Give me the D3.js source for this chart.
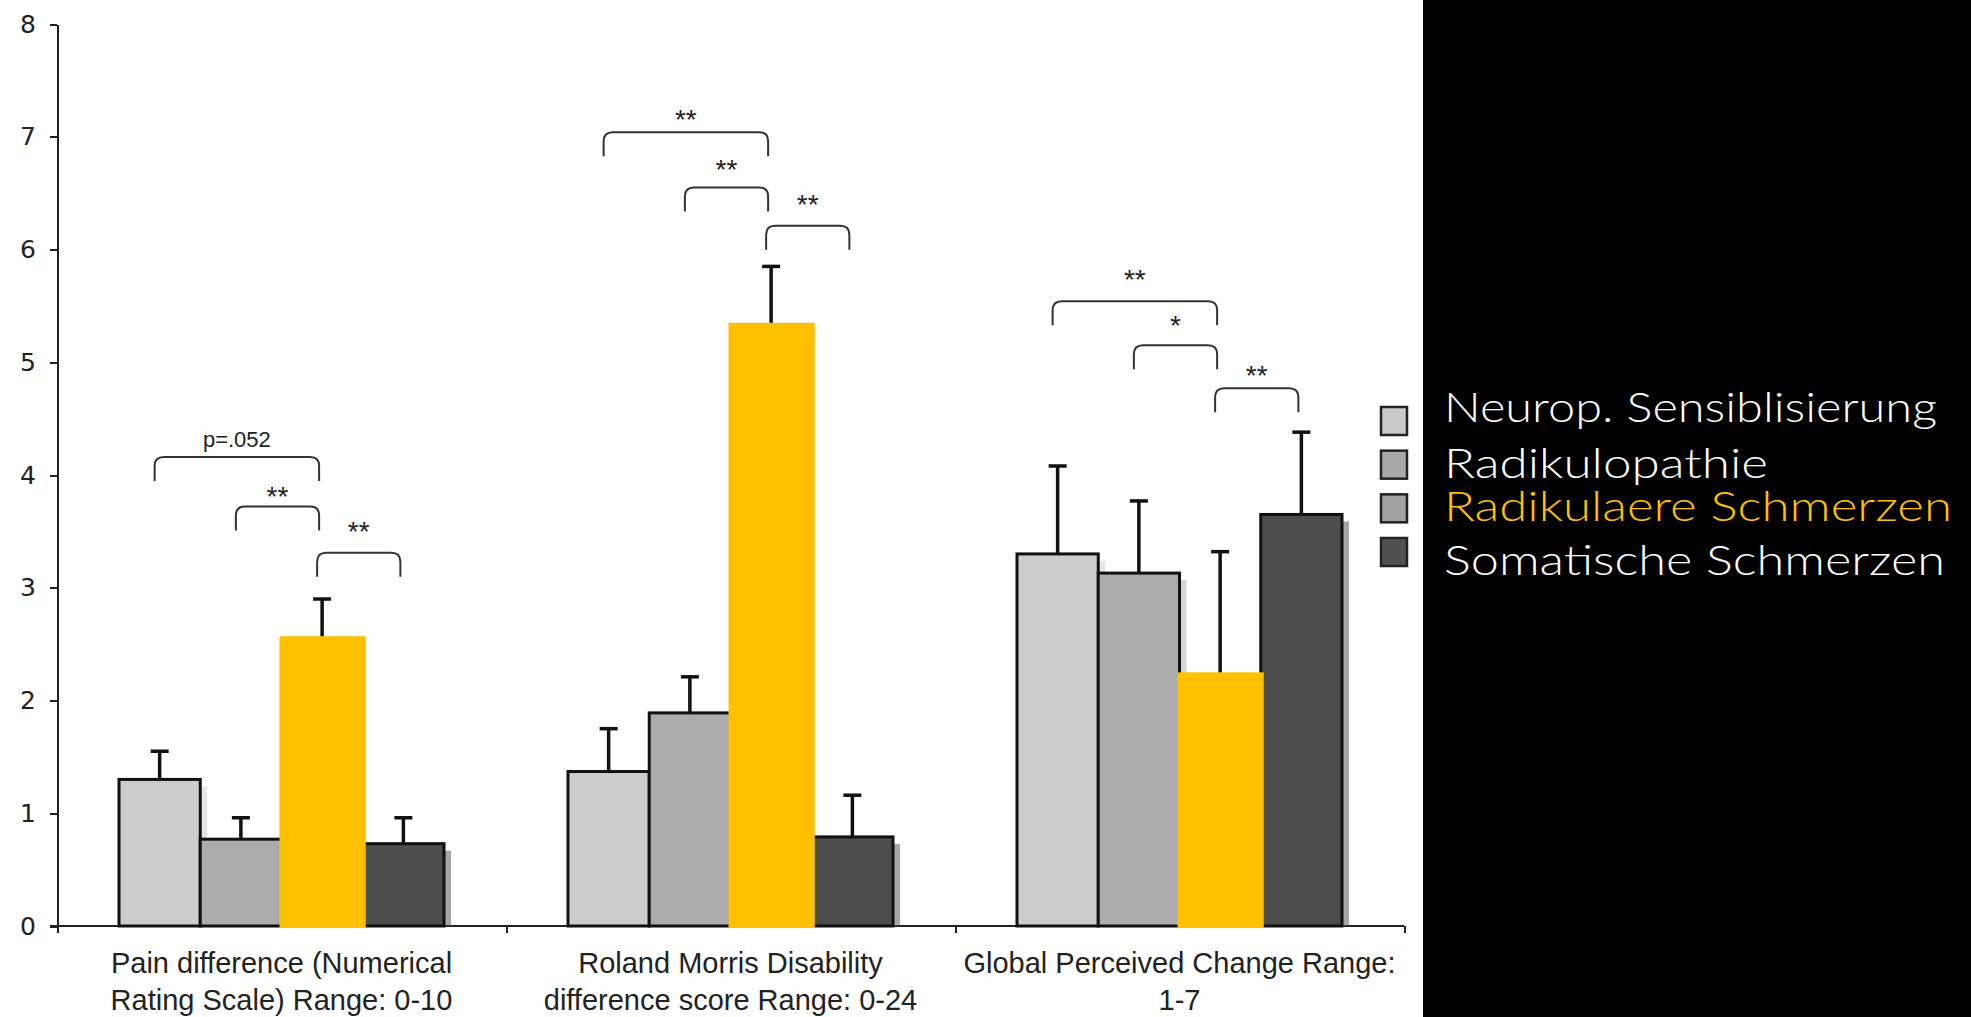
<!DOCTYPE html>
<meta charset="utf-8">
<style>
body{
    margin:0;
    background:#fff;
}
svg{
    display:block;
}
.axis path, .axis line{
    stroke:#222;
    stroke-width:2px;
    shape-rendering:crispEdges;
}
.yaxis text{
    font-family:"DejaVu Sans", sans-serif;
    font-size:25px;
    fill:#222;
}
.catlabel{
    font-family:"Liberation Sans", Arial, sans-serif;
    font-size:29px;
    fill:#222;
    text-anchor:middle;
}
.bar{
    stroke:#111;
    stroke-width:3px;
}
.err{
    stroke:#111;
    stroke-width:3.5px;
}
.bracket{
    fill:none;
    stroke:#333;
    stroke-width:2px;
}
.sig{
    font-family:"Liberation Sans", Arial, sans-serif;
    fill:#222;
    text-anchor:middle;
}
.legtext{
    font-family:Lato, "Open Sans", sans-serif;
    font-weight:300;
    font-size:42px;
}
</style>
<body>
<script src="https://cdn.jsdelivr.net/npm/d3@7"></script>
<script>
var W = 1971, H = 1017;

// categories (two lines each)
var categories = ["Pain", "Roland", "Global"];
var categoryLines = [
    ["Pain difference (Numerical", "Rating Scale) Range: 0-10"],
    ["Roland Morris Disability", "difference score Range: 0-24"],
    ["Global Perceived Change Range:", "1-7"]
];

var series = ["Neurop. Sensiblisierung", "Radikulopathie", "Radikulaere Schmerzen", "Somatische Schmerzen"];
var seriesColors = ["#cdcdcd", "#ababab", "#ffc000", "#4d4d4d"];
var legendSwatch = ["#c9c9c9", "#a9a9a9", "#a3a3a3", "#505050"];
var legendTextColors = ["#ffffff", "#ffffff", "#ffc000", "#ffffff"];

// means per category
var neurop         = [1.30, 1.37, 3.30];
var radikulopathie = [0.77, 1.89, 3.13];
var radikulaer     = [2.57, 5.35, 2.25];
var somatisch      = [0.73, 0.79, 3.65];
// upward error (SE) per category
var neuropErr         = [0.25, 0.38, 0.78];
var radikulopathieErr = [0.19, 0.32, 0.64];
var radikulaerErr     = [0.33, 0.50, 1.07];
var somatischErr      = [0.23, 0.37, 0.73];

var yTicks = [0, 1, 2, 3, 4, 5, 6, 7, 8];

// significance brackets: category index, from series, to series, bracket level, label, label level
var brackets = [
    {cat:0, a:0, b:2, level:4.16, label:"p=.052", at:4.32},
    {cat:0, a:1, b:2, level:3.72, label:"**", at:3.88},
    {cat:0, a:2, b:3, level:3.31, label:"**", at:3.57},
    {cat:1, a:0, b:2, level:7.04, label:"**", at:7.22},
    {cat:1, a:1, b:2, level:6.55, label:"**", at:6.78},
    {cat:1, a:2, b:3, level:6.21, label:"**", at:6.47},
    {cat:2, a:0, b:2, level:5.54, label:"**", at:5.80},
    {cat:2, a:1, b:2, level:5.15, label:"*", at:5.40},
    {cat:2, a:2, b:3, level:4.77, label:"**", at:4.95}
];

var means = [neurop, radikulopathie, radikulaer, somatisch];
var errs = [neuropErr, radikulopathieErr, radikulaerErr, somatischErr];

var rows = [];
series.forEach(function(s, i){
    categories.forEach(function(c, j){
        rows.push({s:i, c:j, v:means[i][j], e:errs[i][j]});
    });
});

var svg = d3.select("body").append("svg").attr("width", W).attr("height", H);

// black panel on the right
svg.append("rect").attr("x", 1423).attr("y", 0).attr("width", W - 1423).attr("height", H).attr("fill", "#000");

var plot = {left:57, right:1404, top:24, bottom:926};

var y = d3.scaleLinear().domain([0, 8]).range([plot.bottom, plot.top]);
var x0 = d3.scaleBand().domain(categories).range([plot.left, plot.right]).padding(0);
var bw = x0.bandwidth();
var x1 = d3.scaleBand().domain(d3.range(series.length)).range([62, bw - 62]).padding(0);

function barX(d){ return x0(categories[d.c]) + x1(d.s); }
function barMid(c, s){ return x0(categories[c]) + x1(s) + x1.bandwidth() / 2; }

// axes
svg.append("g").attr("class", "axis yaxis")
    .attr("transform", "translate(" + plot.left + ",0)")
    .call(d3.axisLeft(y).tickValues(yTicks).tickSize(7).tickSizeOuter(0).tickPadding(14).tickFormat(d3.format("d")));

var xl = d3.scaleLinear().domain([0, 3]).range([plot.left, plot.right]);
svg.append("g").attr("class", "axis xaxis")
    .attr("transform", "translate(0," + plot.bottom + ")")
    .call(d3.axisBottom(xl).tickValues([0, 1, 2, 3]).tickSize(7).tickSizeOuter(0).tickFormat(""));
svg.select(".xaxis path").attr("d", "M" + (plot.left - 7) + ",0H" + plot.right);

// shadows + bars (gray ones)
var gray = rows.filter(function(d){ return d.s != 2; });
var yellow = rows.filter(function(d){ return d.s == 2; });

svg.append("g").selectAll("rect").data(gray).enter().append("rect")
    .attr("x", function(d){ return barX(d) + 7; })
    .attr("y", function(d){ return y(d.v) + 7; })
    .attr("width", x1.bandwidth())
    .attr("height", function(d){ return y(0) - y(d.v) - 7; })
    .attr("fill", function(d){ return seriesColors[d.s]; })
    .attr("opacity", 0.5);

svg.append("g").selectAll("rect").data(gray).enter().append("rect")
    .attr("class", "bar")
    .attr("x", barX)
    .attr("y", function(d){ return y(d.v); })
    .attr("width", x1.bandwidth())
    .attr("height", function(d){ return y(0) - y(d.v); })
    .attr("fill", function(d){ return seriesColors[d.s]; });

svg.append("g").selectAll("rect").data(yellow).enter().append("rect")
    .attr("x", function(d){ return barX(d) - 2; })
    .attr("y", function(d){ return y(d.v); })
    .attr("width", x1.bandwidth() + 5)
    .attr("height", function(d){ return y(0) - y(d.v) + 2; })
    .attr("fill", seriesColors[2]);

// error bars (upper only)
var eg = svg.append("g").selectAll("g").data(rows).enter().append("g");
eg.append("line").attr("class", "err")
    .attr("x1", function(d){ return barMid(d.c, d.s); })
    .attr("x2", function(d){ return barMid(d.c, d.s); })
    .attr("y1", function(d){ return y(d.v); })
    .attr("y2", function(d){ return y(d.v + d.e); });
eg.append("line").attr("class", "err")
    .attr("x1", function(d){ return barMid(d.c, d.s) - 9; })
    .attr("x2", function(d){ return barMid(d.c, d.s) + 9; })
    .attr("y1", function(d){ return y(d.v + d.e); })
    .attr("y2", function(d){ return y(d.v + d.e); });

// significance brackets
var leg = 24, r = 9;
svg.append("g").selectAll("path").data(brackets).enter().append("path")
    .attr("class", "bracket")
    .attr("d", function(d){
        var xa = barMid(d.cat, d.a) - 5, xb = barMid(d.cat, d.b) - 3, yy = y(d.level);
        return "M" + xa + "," + (yy + leg) + "L" + xa + "," + (yy + r) +
            "Q" + xa + "," + yy + " " + (xa + r) + "," + yy +
            "L" + (xb - r) + "," + yy +
            "Q" + xb + "," + yy + " " + xb + "," + (yy + r) +
            "L" + xb + "," + (yy + leg);
    });

svg.append("g").selectAll("text").data(brackets).enter().append("text")
    .attr("class", "sig")
    .attr("x", function(d){ return (barMid(d.cat, d.a) + barMid(d.cat, d.b)) / 2 - 4; })
    .attr("y", function(d){ return y(d.at); })
    .attr("font-size", function(d){ return d.label.indexOf("*") == 0 ? "28px" : "22px"; })
    .attr("dy", function(d){ return d.label.indexOf("*") == 0 ? "0.62em" : "0.36em"; })
    .text(function(d){ return d.label; });

// category labels
svg.append("g").selectAll("text").data(categories).enter().append("text")
    .attr("class", "catlabel")
    .attr("x", function(d){ return x0(d) + bw / 2; })
    .attr("y", 973)
    .each(function(d, i){
        var t = d3.select(this);
        categoryLines[i].forEach(function(line, k){
            t.append("tspan").attr("x", x0(d) + bw / 2).attr("dy", k == 0 ? 0 : 37).text(line);
        });
    });

// legend
var legendY = d3.scalePoint().domain(d3.range(series.length)).range([407, 538]);
var lg = svg.append("g").selectAll("g").data(series).enter().append("g");
lg.append("rect")
    .attr("x", 1381).attr("y", function(d, i){ return legendY(i); })
    .attr("width", 26).attr("height", 28)
    .attr("fill", function(d, i){ return legendSwatch[i]; })
    .attr("stroke", "#222").attr("stroke-width", 2.5);
lg.append("text").attr("class", "legtext")
    .attr("x", 1444)
    .attr("y", function(d, i){ return [422, 478, 521, 575][i]; })
    .attr("textLength", function(d, i){ return [493, 324, 508, 501][i]; })
    .attr("lengthAdjust", "spacingAndGlyphs")
    .attr("fill", function(d, i){ return legendTextColors[i]; })
    .text(function(d){ return d; });
</script>
